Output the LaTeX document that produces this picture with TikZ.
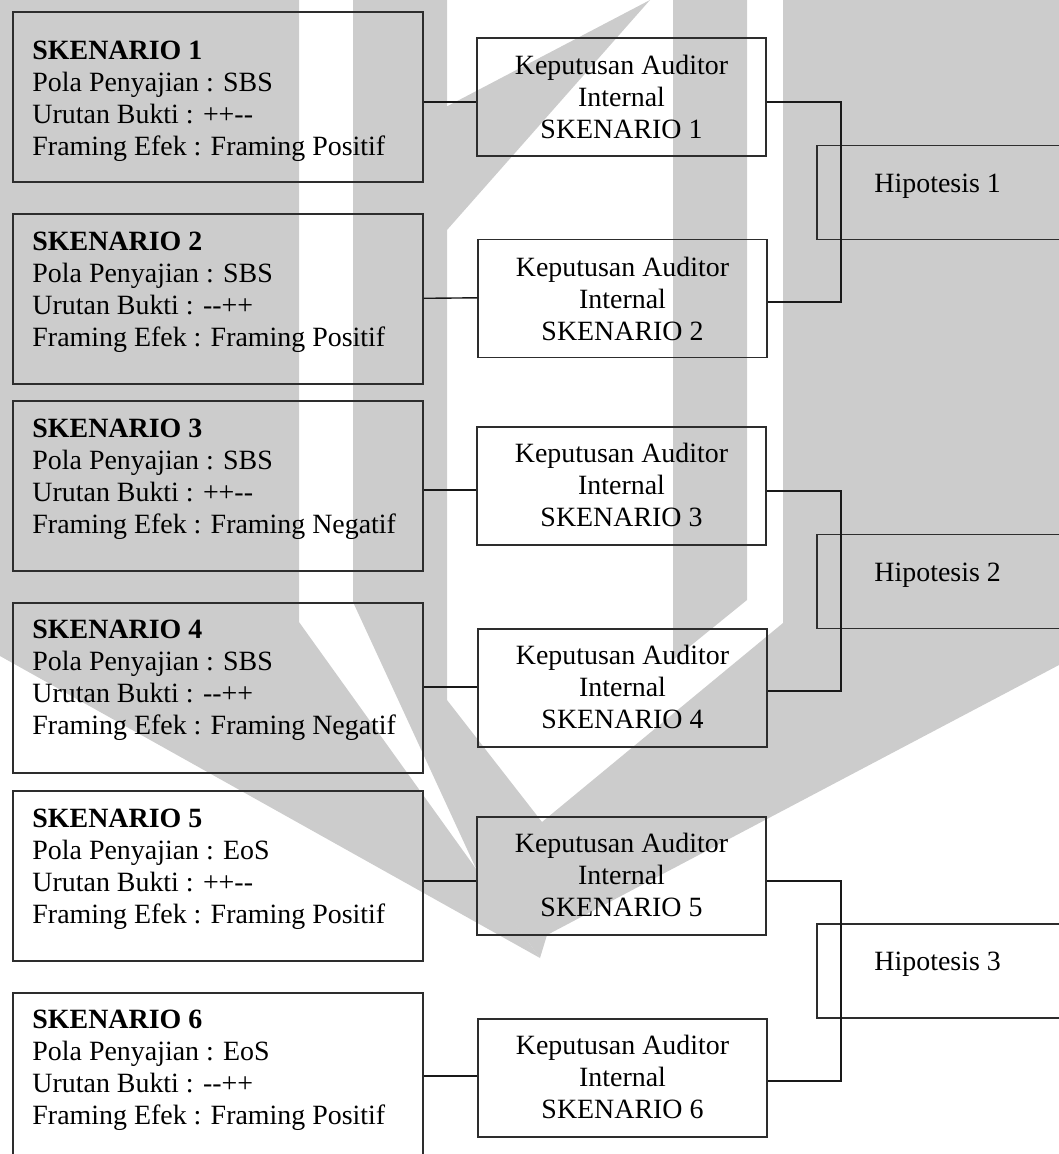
\documentclass[tikz,border=0pt]{standalone}
\usepackage{fontspec}
\setmainfont{Liberation Serif}
\usetikzlibrary{calc}
\definecolor{wm}{RGB}{204,204,204}
\definecolor{ln}{RGB}{45,45,45}
\begin{document}
\begin{tikzpicture}[x=0.43pt,y=-0.43pt,
  every node/.style={font=\fontsize{12}{13.8}\selectfont},
  sbox/.style={draw=ln, line width=0.55pt, minimum width=176.3pt, minimum height=73.1pt, inner sep=0pt},
  kbox/.style={draw=ln, line width=0.55pt, minimum width=124.3pt, minimum height=50.7pt, inner sep=0pt},
  hbox/.style={draw=ln, line width=0.5pt, minimum width=108.8pt, minimum height=40.4pt, inner sep=0pt},
  stext/.style={anchor=base west, inner sep=0pt},
  ktext/.style={anchor=base, inner sep=0pt},
  htext/.style={anchor=base west, inner sep=0pt},
  conn/.style={draw=black!90, line width=0.6pt},
  wmark/.style={fill=wm, draw=none}]
\useasboundingbox (0,0) rectangle (1059,1154);
% watermark: overlapping opaque pieces
\fill[wmark] (0,0) -- (299,0) -- (299,622) -- (540,958) -- (0,656) -- cycle;
\fill[wmark] (353,0) -- (447,0) -- (447,700) -- (542,822) -- (560,880) -- (547,935) -- (540,958) -- (479,875) -- (353,602) -- cycle;
\fill[wmark] (673,0) -- (747,0) -- (747,600) -- (673,660) -- cycle;
\fill[wmark] (783,0) -- (1059,0) -- (1059,665) -- (547,935) -- (530,880) -- (542,822) -- (783,623) -- cycle;
\fill[wmark] (650,0) -- (440,110) -- (440,230) -- (447,230) -- cycle;
% scenario boxes
\node[sbox] (S1) at (218,97) {};
\node[sbox] (S2) at (218,299) {};
\node[sbox] (S3) at (218,486) {};
\node[sbox] (S4) at (218,688) {};
\node[sbox] (S5) at (218,876) {};
\node[sbox] (S6) at (218,1078) {};
% decision boxes
\node[kbox] (K1) at (621.5,97) {};
\node[kbox] (K2) at (622.5,298.5) {};
\node[kbox] (K3) at (621.5,486) {};
\node[kbox] (K4) at (622.5,688) {};
\node[kbox] (K5) at (621.5,876) {};
\node[kbox] (K6) at (622.5,1078) {};
% hypothesis boxes
\node[hbox] (H1) at (943.5,192.5) {};
\node[hbox] (H2) at (943.5,581.5) {};
\node[hbox] (H3) at (943.5,971) {};
% connectors
\draw[conn] ([yshift=-2.15pt]S1.east) -- ([yshift=-2.15pt]K1.west);
\draw[conn] ([yshift=0.3pt]S2.east) -- ([yshift=0.3pt]K2.west);
\draw[conn] ([yshift=-1.72pt]S3.east) -- ([yshift=-1.72pt]K3.west);
\draw[conn] ([yshift=0.43pt]S4.east) -- ([yshift=0.43pt]K4.west);
\draw[conn] ([yshift=-2.15pt]S5.east) -- ([yshift=-2.15pt]K5.west);
\draw[conn] ([yshift=0.86pt]S6.east) -- ([yshift=0.86pt]K6.west);
\coordinate (J1) at (841,200);
\coordinate (J2) at (841,590);
\coordinate (J3) at (841,980);
\draw[conn] ([yshift=-2.15pt]K1.east) -| (J1) |- ([yshift=-1.5pt]K2.east);
\draw[conn] ([yshift=-2.15pt]K3.east) -| (J2) |- ([yshift=-1.3pt]K4.east);
\draw[conn] ([yshift=-2.15pt]K5.east) -| (J3) |- ([yshift=-1.3pt]K6.east);
% scenario texts
\node[stext] (S1t) at (32,59) {\begin{tabular}[t]{@{}l@{}}\textbf{SKENARIO 1}\\ Pola Penyajian : SBS\\ Urutan Bukti : ++-{}-\\ Framing Efek : Framing Positif\end{tabular}};
\node[stext] (S2t) at (32,250) {\begin{tabular}[t]{@{}l@{}}\textbf{SKENARIO 2}\\ Pola Penyajian : SBS\\ Urutan Bukti : -{}-++\\ Framing Efek : Framing Positif\end{tabular}};
\node[stext] (S3t) at (32,437) {\begin{tabular}[t]{@{}l@{}}\textbf{SKENARIO 3}\\ Pola Penyajian : SBS\\ Urutan Bukti : ++-{}-\\ Framing Efek : Framing Negatif\end{tabular}};
\node[stext] (S4t) at (32,638) {\begin{tabular}[t]{@{}l@{}}\textbf{SKENARIO 4}\\ Pola Penyajian : SBS\\ Urutan Bukti : -{}-++\\ Framing Efek : Framing Negatif\end{tabular}};
\node[stext] (S5t) at (32,827) {\begin{tabular}[t]{@{}l@{}}\textbf{SKENARIO 5}\\ Pola Penyajian : EoS\\ Urutan Bukti : ++-{}-\\ Framing Efek : Framing Positif\end{tabular}};
\node[stext] (S6t) at (32,1028) {\begin{tabular}[t]{@{}l@{}}\textbf{SKENARIO 6}\\ Pola Penyajian : EoS\\ Urutan Bukti : -{}-++\\ Framing Efek : Framing Positif\end{tabular}};
% decision texts
\node[ktext] (K1t) at (621.5,74) {\begin{tabular}[t]{@{}c@{}}Keputusan Auditor\\ Internal\\ SKENARIO 1\end{tabular}};
\node[ktext] (K2t) at (622.5,276) {\begin{tabular}[t]{@{}c@{}}Keputusan Auditor\\ Internal\\ SKENARIO 2\end{tabular}};
\node[ktext] (K3t) at (621.5,462) {\begin{tabular}[t]{@{}c@{}}Keputusan Auditor\\ Internal\\ SKENARIO 3\end{tabular}};
\node[ktext] (K4t) at (622.5,664) {\begin{tabular}[t]{@{}c@{}}Keputusan Auditor\\ Internal\\ SKENARIO 4\end{tabular}};
\node[ktext] (K5t) at (621.5,852) {\begin{tabular}[t]{@{}c@{}}Keputusan Auditor\\ Internal\\ SKENARIO 5\end{tabular}};
\node[ktext] (K6t) at (622.5,1054) {\begin{tabular}[t]{@{}c@{}}Keputusan Auditor\\ Internal\\ SKENARIO 6\end{tabular}};
% hypothesis texts
\node[htext] (H1t) at (874,192) {Hipotesis 1};
\node[htext] (H2t) at (874,581) {Hipotesis 2};
\node[htext] (H3t) at (874,970) {Hipotesis 3};
\end{tikzpicture}
\end{document}
